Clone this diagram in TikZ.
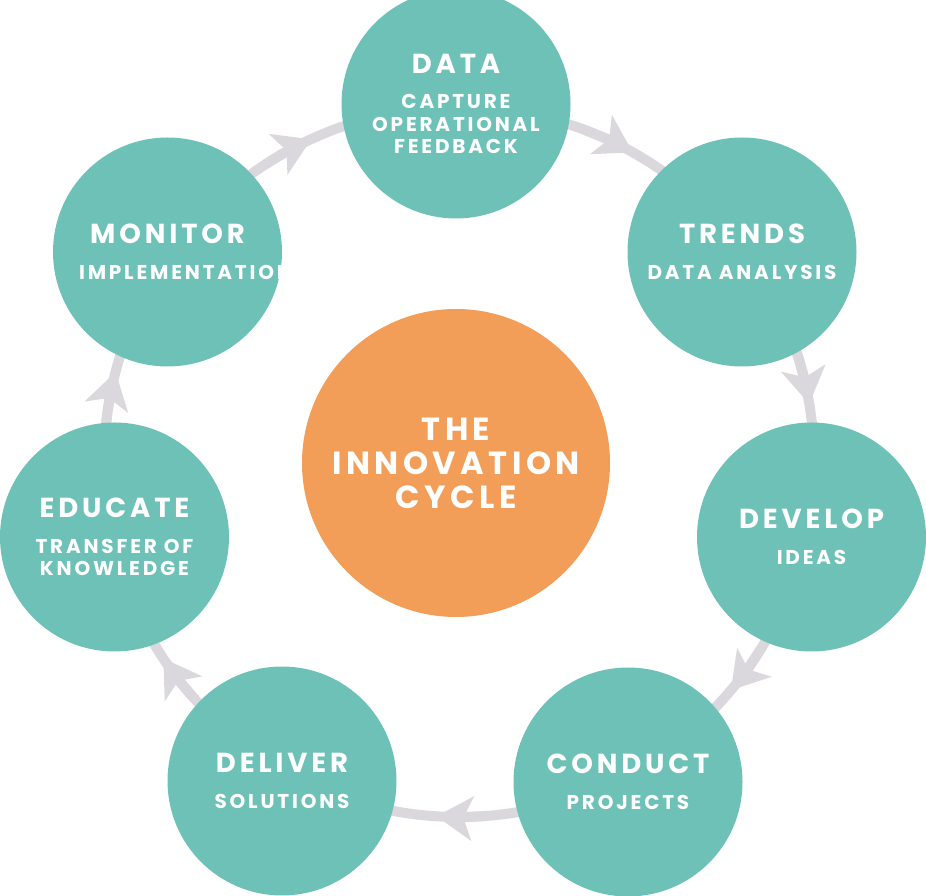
\documentclass[tikz,border=0pt]{standalone}
\usepackage{fontspec}
\setmainfont{Poppins}
\newfontfamily\cyclefont{Poppins}[LetterSpace=14]
\usetikzlibrary{arrows.meta}
\definecolor{stageteal}{HTML}{6EC1B7}
\definecolor{huborange}{HTML}{F29E58}
\definecolor{ringgray}{HTML}{DBD8DD}
\newcommand{\stagetitle}{\cyclefont\bfseries\fontsize{27.5}{30}\selectfont}
\newcommand{\stagesub}{\cyclefont\bfseries\fontsize{20}{22.5}\selectfont}
\newcommand{\hubtext}{\cyclefont\bfseries\fontsize{32}{34}\selectfont}
\begin{document}
\begin{tikzpicture}[x=1pt,y=1pt,inner sep=0pt,outer sep=0pt,
stage/.style={circle,fill=stageteal,minimum size=229pt,text=white,align=center,font=\stagesub},
hub/.style={circle,fill=huborange,minimum size=308pt,text=white,align=center,font=\hubtext},
ringline/.style={draw=ringgray,line width=10pt},
ringarrow/.style={ringline,-{Stealth[length=36pt,width=44pt,inset=9pt]}}]
\useasboundingbox (0,0) rectangle (926,896);
\coordinate (ringc) at (459,434);
\draw[ringline] (ringc) circle[radius=355];
\draw[ringarrow] ([shift={(69:355)}]ringc) arc[start angle=69,end angle=60.7,radius=355];
\draw[ringarrow] ([shift={(17.7:355)}]ringc) arc[start angle=17.7,end angle=9.4,radius=355];
\draw[ringarrow] ([shift={(-31.7:355)}]ringc) arc[start angle=-31.7,end angle=-40,radius=355];
\draw[ringarrow] ([shift={(-85.35:355)}]ringc) arc[start angle=-85.35,end angle=-93.65,radius=355];
\draw[ringarrow] ([shift={(-138.1:355)}]ringc) arc[start angle=-138.1,end angle=-146.4,radius=355];
\draw[ringarrow] ([shift={(173.6:355)}]ringc) arc[start angle=173.6,end angle=165.3,radius=355];
\draw[ringarrow] ([shift={(122.9:355)}]ringc) arc[start angle=122.9,end angle=114.6,radius=355];
\draw (456,433) node[hub] (cycle) {THE\\INNOVATION\\CYCLE};
\draw (456,792) node[stage] (data) {{\stagetitle DATA}\\[13pt]CAPTURE\\OPERATIONAL\\FEEDBACK};
\draw (742,644) node[stage] (trends) {{\stagetitle TRENDS}\\[13pt]DATA ANALYSIS};
\draw (811.5,359) node[stage] (develop) {{\stagetitle DEVELOP}\\[13pt]IDEAS};
\draw (628,114) node[stage] (conduct) {{\stagetitle CONDUCT}\\[13pt]PROJECTS};
\draw (282,115) node[stage] (deliver) {{\stagetitle DELIVER}\\[13pt]SOLUTIONS};
\draw (114.5,359) node[stage] (educate) {{\stagetitle EDUCATE}\\[13pt]TRANSFER OF\\KNOWLEDGE};
\draw (167.5,644) node[stage] (monitor) {{\stagetitle MONITOR}\\[13pt]\makebox[0pt]{\hspace*{36pt}IMPLEMENTATION}};
\end{tikzpicture}
\end{document}
